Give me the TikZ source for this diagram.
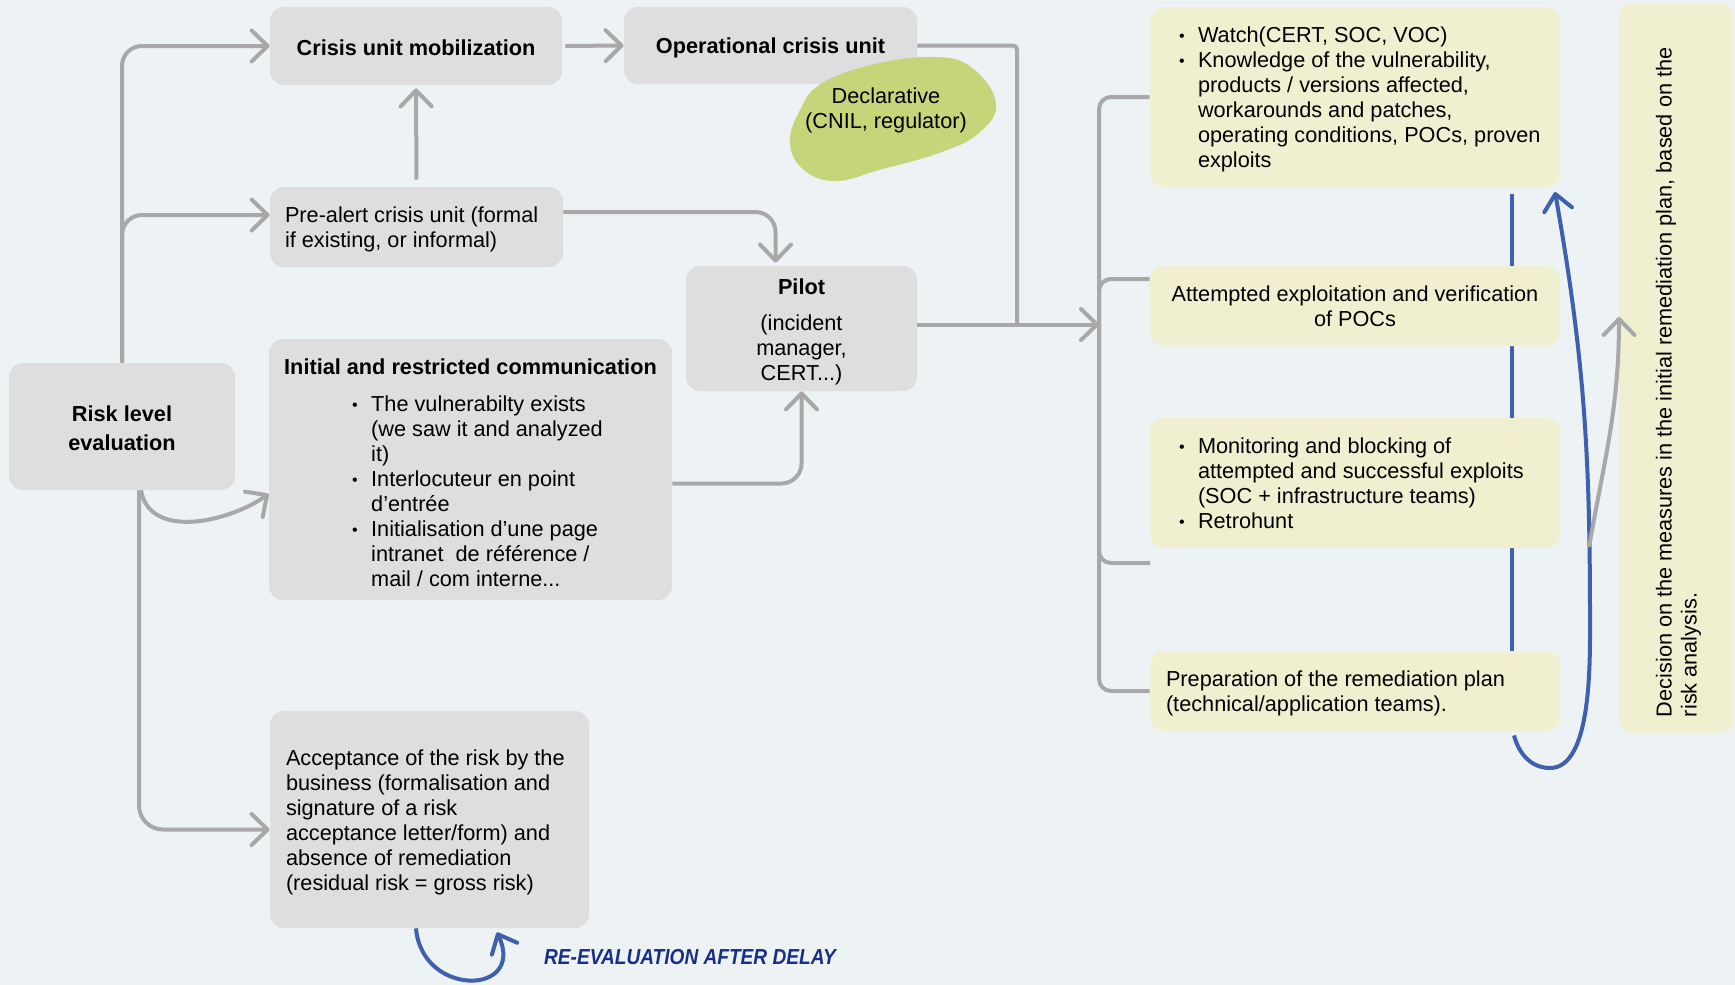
\documentclass[tikz,border=0pt]{standalone}
\usepackage{fontspec}
\setmainfont{Liberation Sans}
\usepackage{graphicx}
\usetikzlibrary{arrows,arrows.meta}
\definecolor{bgcol}{HTML}{EDF2F5}
\definecolor{boxgray}{HTML}{DEDEDE}
\definecolor{boxyellow}{HTML}{F0F0D0}
\definecolor{blobgreen}{HTML}{C6D47A}
\definecolor{linegray}{HTML}{A8A8A8}
\definecolor{loopblue}{HTML}{3E60AE}
\definecolor{navy}{HTML}{172F86}
\newcommand{\bodyfont}{\fontsize{10.85}{12.5}\selectfont}
\newcommand{\bulmark}{\makebox[9.5pt][l]{\raisebox{0.5pt}{\fontsize{8}{8}\selectfont •}}}
\newcommand{\bulgap}{\makebox[9.5pt]{}}
\newcommand{\lowered}[2]{\raisebox{-#1}[\height][\depth]{#2}}
\newcommand{\leftblock}[2]{\makebox[#1][l]{\lowered{1.6pt}{\begin{tabular}{@{}l@{}}#2\end{tabular}}}}
\newcommand{\midblock}[2]{\lowered{#1}{\begin{tabular}{@{}c@{}}#2\end{tabular}}}

\begin{document}
\begin{tikzpicture}[x=0.5pt,y=-0.5pt,
  every node/.style={font=\bodyfont, inner sep=0pt},
  graybox/.style={fill=boxgray, rounded corners=7pt},
  yellowbox/.style={fill=boxyellow, rounded corners=7pt},
  flow/.style={draw=linegray, line width=2pt, rounded corners=10pt, -{Straight Barb[round,length=8pt,width=15.5pt]}},
  link/.style={draw=linegray, line width=2pt, rounded corners=6pt},
  blueline/.style={draw=loopblue, line width=2pt},
  blueflow/.style={blueline, -{Straight Barb[round,length=8pt,width=14pt]}}]
  \fill[bgcol] (0,0) rectangle (1735,985);
  \useasboundingbox (0,0) rectangle (1735,985);

  \coordinate (bluetop) at (1512,194); \coordinate (bluebottom) at (1512,651);
  \draw[blueline] (bluetop) -- (bluebottom);

  \node[graybox, minimum width=146pt, minimum height=39pt] (crisis) at (416,46) {\lowered{1pt}{\textbf{Crisis unit mobilization}}};
  \node[graybox, minimum width=146.5pt, minimum height=38.5pt] (opcrisis) at (770.5,45.5) {\lowered{1pt}{\textbf{Operational crisis unit}}};
  \node[graybox, minimum width=146.5pt, minimum height=40pt] (prealert) at (416.5,227) {\leftblock{131.5pt}{Pre-alert crisis unit (formal\\if existing, or informal)}};
  \node[graybox, minimum width=115.5pt, minimum height=62.5pt] (pilot) at (801.5,328.5) {\midblock{1.8pt}{\textbf{Pilot}\\[5.5pt](incident\\manager,\\CERT...)}};
  \node[graybox, minimum width=113pt, minimum height=63.5pt] (risk) at (122,426.5) {\midblock{2pt}{\textbf{Risk level}\\[2pt]\textbf{evaluation}}};
  \node[graybox, minimum width=201.5pt, minimum height=130.5pt] (initcomm) at (470.5,469.5) {\midblock{2.75pt}{\textbf{Initial and restricted communication}\\[6pt]\hspace*{7pt}\begin{tabular}[t]{@{}l@{}}
    \bulmark The vulnerabilty exists\\
    \bulgap (we saw it and analyzed\\
    \bulgap it)\\
    \bulmark Interlocuteur en point\\
    \bulgap d’entrée\\
    \bulmark Initialisation d’une page\\
    \bulgap intranet\ \ de référence /\\
    \bulgap mail / com interne...
  \end{tabular}}};
  \node[graybox, minimum width=159.5pt, minimum height=108.5pt] (accept) at (429.5,819.5) {\leftblock{143.5pt}{Acceptance of the risk by the\\business (formalisation and\\signature of a risk\\acceptance letter/form) and\\absence of remediation\\(residual risk = gross risk)}};

  \fill[blobgreen] plot[smooth cycle, tension=0.7] coordinates {(790,143) (800,110) (821,84) (871,65) (932,57) (971,67) (996,103) (979,133) (939,153) (879,170) (836,181) (804,170)};
  \node (declar) at (886,110) {\midblock{0.5pt}{Declarative\\(CNIL, regulator)}};

  \node[yellowbox, minimum width=205pt, minimum height=90pt] (watch) at (1355,97) {\leftblock{176pt}{\bulmark Watch(CERT, SOC, VOC)\\\bulmark Knowledge of the vulnerability,\\\bulgap products / versions affected,\\\bulgap workarounds and patches,\\\bulgap operating conditions, POCs, proven\\\bulgap exploits}};
  \node[yellowbox, minimum width=205pt, minimum height=40pt] (attempt) at (1355,306) {\midblock{1.6pt}{Attempted exploitation and verification\\of POCs}};
  \node[yellowbox, minimum width=205pt, minimum height=65pt] (monitor) at (1355,483) {\leftblock{176pt}{\bulmark Monitoring and blocking of\\\bulgap attempted and successful exploits\\\bulgap (SOC + infrastructure teams)\\\bulmark Retrohunt}};
  \node[yellowbox, minimum width=205pt, minimum height=40pt] (prep) at (1355,691) {\leftblock{189pt}{Preparation of the remediation plan\\(technical/application teams).}};
  \node[yellowbox, rotate=90, minimum width=365pt, minimum height=57pt] (decision) at (1676,368) {\leftblock{349pt}{Decision on the measures in the initial remediation plan, based on the\\risk analysis.}};

  \node[font=\bodyfont\bfseries\itshape, text=navy] (reeval) at (690,957) {\scalebox{0.88}[1]{RE-EVALUATION AFTER DELAY}};

  \coordinate (join) at (1017,324.5); \coordinate (brkin) at (1099,324.5);
  \coordinate (spine) at (1099,400); \coordinate (monstub) at (1150,563);
  \coordinate (bluebot) at (1550,768); \coordinate (blueside) at (1590,620); \coordinate (bluetip) at (1555,192);
  \coordinate (gstart) at (1589,547); \coordinate (decin) at (1619,317);

  \draw[flow] (risk.north) |- (crisis.west);
  \draw[flow] (risk.north) |- ([yshift=6pt]prealert.west);
  \draw[flow, shorten <=3.5pt, shorten >=1.5pt] (prealert.north) -- (crisis.south);
  \draw[flow, shorten <=1.5pt] (crisis.east) -- (opcrisis.west);
  \draw[flow] ([yshift=7.5pt]prealert.east) -| ([xshift=-13pt,yshift=1.5pt]pilot.north);
  \draw[flow] ([yshift=-7pt]initcomm.east) -| (pilot.south);
  \draw[link, rounded corners=2pt] (opcrisis.east) -| (join);
  \draw[flow] ([yshift=2pt]pilot.east) -- (brkin);
  \draw[link] (watch.west) -| (spine) |- (prep.west);
  \draw[link] (spine) |- ([yshift=13.5pt]attempt.west);
  \draw[link] (spine) |- (monstub);
  \draw[flow] ([xshift=9.5pt]risk.south) to[out=-80,in=215] ([yshift=-12.25pt]initcomm.west);
  \draw[flow, rounded corners=12pt] ([xshift=8.5pt]risk.south) |- ([yshift=-5pt]accept.west);
  \draw[blueflow] ([xshift=79.5pt,yshift=-2pt]prep.south) to[out=-75,in=180] (bluebot) to[out=0,in=-90,looseness=0.7] (blueside) to[out=90,in=-80] (bluetip);
  \draw[flow] (gstart) to[out=80,in=-90] (decin);
  \draw[blueflow] ([xshift=-6.75pt]accept.south) to[out=-85,in=-65,looseness=2.2] ([xshift=33.75pt,yshift=-2pt]accept.south);
\end{tikzpicture}
\end{document}
